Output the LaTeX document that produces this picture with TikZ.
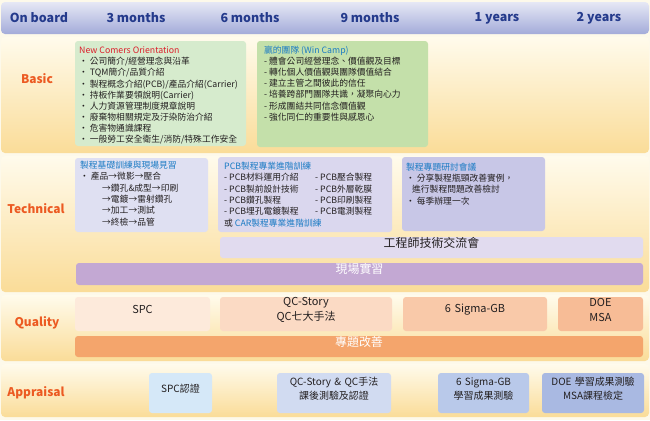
\documentclass[tikz,border=0pt]{standalone}
\usepackage{fontspec}
\setmainfont{Noto Sans CJK TC}
\usetikzlibrary{fit}

\definecolor{bgc}{HTML}{FDF9EA}
\definecolor{hdrtop}{HTML}{E6E8F5}
\definecolor{hdrbot}{HTML}{A3ABD9}
\definecolor{hdrtext}{HTML}{243A8C}
\definecolor{bandtop}{HTML}{FFFBEC}
\definecolor{bandbot}{HTML}{FADC98}
\definecolor{labelc}{HTML}{EC5A22}
\definecolor{redc}{HTML}{DC1F2B}
\definecolor{bluec}{HTML}{1B7BC4}
\definecolor{bodyc}{HTML}{231F20}
\definecolor{greenA}{HTML}{D6EBCD}
\definecolor{greenB}{HTML}{C4E0AA}
\definecolor{lavA}{HTML}{DFE0F2}
\definecolor{lavB}{HTML}{DAD7EE}
\definecolor{lavC}{HTML}{C8C7E7}
\definecolor{lavBar}{HTML}{E1DBEF}
\definecolor{purpleBar}{HTML}{C3A8D3}
\definecolor{peachA}{HTML}{FDEADB}
\definecolor{peachB}{HTML}{FBDAC4}
\definecolor{peachC}{HTML}{F9C9A9}
\definecolor{peachD}{HTML}{F7BC96}
\definecolor{orangeBar}{HTML}{F4A56C}
\definecolor{blueA}{HTML}{D5E8F8}
\definecolor{blueB}{HTML}{D1DBF1}
\definecolor{blueC}{HTML}{B9C9EA}
\definecolor{blueD}{HTML}{A9B9E2}

\tikzset{
  band/.style={inner sep=0pt, rounded corners=4bp, top color=bandtop, bottom color=bandbot, draw=none},
  header/.style={inner sep=0pt, rounded corners=4bp, top color=hdrtop, bottom color=hdrbot, draw=none},
  hdrlabel/.style={text=hdrtext, font=\fontsize{12.5}{15}\selectfont\bfseries, inner sep=0pt},
  rowlabel/.style={text=labelc, font=\fontsize{12}{14}\selectfont\bfseries, inner sep=0pt},
  panel/.style={inner sep=0pt, rounded corners=3bp, draw=none},
  % multi-line text blocks are placed by the baseline of their last line
  body/.style={inner sep=0pt, anchor=base west, align=left, text=bodyc,
    font=\fontsize{8.8}{11.1}\selectfont},
  techbody/.style={body, font=\fontsize{8.8}{11.3}\selectfont},
  qtext/.style={align=center, text=bodyc, font=\fontsize{11}{14.5}\selectfont},
  atext/.style={align=center, text=bodyc, font=\fontsize{10}{13.5}\selectfont},
  bartext/.style={align=center, font=\fontsize{12}{14}\selectfont},
}

\begin{document}
\begin{tikzpicture}[x=1bp, y=-1bp]
  \useasboundingbox (0,0) rectangle (650,420);
  \fill[bgc] (0,0) rectangle (650,420);

  % timeline header
  \node[header, fit={(1,2) (649,34)}] (hdr) {};
  \node[hdrlabel] (h0) at (39,18) {On board};
  \node[hdrlabel] (h1) at (136,18) {3 months};
  \node[hdrlabel] (h2) at (250,18) {6 months};
  \node[hdrlabel] (h3) at (370,18) {9 months};
  \node[hdrlabel] (h4) at (497,18) {1 years};
  \node[hdrlabel] (h5) at (599,18) {2 years};

  % row bands
  \node[band, fit={(1,37) (649,153)}] (rowBasic) {};
  \node[band, fit={(1,156) (649,292)}] (rowTech) {};
  \node[band, fit={(1,295) (649,361)}] (rowQuality) {};
  \node[band, fit={(1,364) (649,417)}] (rowAppraisal) {};

  \node[rowlabel] (lBasic) at (37,79) {Basic};
  \node[rowlabel] (lTech) at (36,209) {Technical};
  \node[rowlabel] (lQuality) at (37,323) {Quality};
  \node[rowlabel] (lAppraisal) at (36,393) {Appraisal};

  % Basic
  \node[panel, fill=greenA, fit={(75,41) (246,146)}] (newcomers) {};
  \node[body] (newcomersText) at (79,142.3) {%
    {\color{redc}New Comers Orientation}\\
    · 公司簡介/經營理念與沿革\\
    · TQM簡介/品質介紹\\
    · 製程概念介紹(PCB)/產品介紹(Carrier)\\
    · 持板作業要領說明(Carrier)\\
    · 人力資源管理制度規章說明\\
    · 廢棄物相關規定及汙染防治介紹\\
    · 危害物通識課程\\
    · 一般勞工安全衛生/消防/特殊工作安全};

  \node[panel, fill=greenB, fit={(257,41) (428,147)}] (wincamp) {};
  \node[body] (wincampText) at (264,120.1) {%
    {\color{bluec}贏的團隊 (Win Camp)}\\
    - 體會公司經營理念、價值觀及目標\\
    - 轉化個人價值觀與團隊價值結合\\
    - 建立主管之間彼此的信任\\
    - 培養跨部門團隊共識，凝聚向心力\\
    - 形成團結共同信念價值觀\\
    - 強化同仁的重要性與感恩心};

  % Technical
  \node[panel, fill=lavA, fit={(75,158) (208,232)}] (basicproc) {};
  \node[techbody] (basicprocText) at (80,225) {%
    {\color{bluec}製程基礎訓練與現場見習}\\
    · 產品→微影→壓合\\
    \hspace*{22bp}→鑽孔\&成型→印刷\\
    \hspace*{22bp}→電鍍→雷射鑽孔\\
    \hspace*{22bp}→加工→測試\\
    \hspace*{22bp}→終檢→品管};

  \node[panel, fill=lavB, fit={(218,157) (392,232)}] (pcbadv) {};
  \node[techbody] (pcbadvText) at (224,226) {%
    {\color{bluec}PCB製程專業進階訓練}\\
    \makebox[91bp][l]{- PCB材料運用介紹}- PCB壓合製程\\
    \makebox[91bp][l]{- PCB製前設計技術}- PCB外層乾膜\\
    \makebox[91bp][l]{- PCB鑽孔製程}- PCB印刷製程\\
    \makebox[91bp][l]{- PCB埋孔電鍍製程}- PCB電測製程\\
    或 {\color{bluec}CAR製程專業進階訓練}};

  \node[panel, fill=lavC, fit={(402,157) (545,231)}] (seminar) {};
  \node[techbody] (seminarText) at (406,204) {%
    {\color{bluec}製程專題研討會議}\\
    · 分享製程瓶頸改善實例，\\
    \hspace*{6bp}進行製程問題改善檢討\\
    · 每季辦理一次};

  \node[panel, fill=lavBar, fit={(220,237) (643,258)}, bartext, text=bodyc] (exchange) {工程師技術交流會};
  \node[panel, fill=purpleBar, fit={(76,263) (643,285)}, bartext, text=white] (practice) {現場實習};

  % Quality
  \node[panel, fill=peachA, fit={(75,297) (210,331)}, qtext] (qSPC) {SPC};
  \node[panel, fill=peachB, fit={(220,297) (392,331)}, qtext] (qQC) {QC-Story\\QC七大手法};
  \node[panel, fill=peachC, fit={(403,297) (547,331)}, qtext] (qSigma) {6 Sigma-GB};
  \node[panel, fill=peachD, fit={(558,297) (643,331)}, qtext] (qDOE) {DOE\\MSA};
  \node[panel, fill=orangeBar, fit={(75,336) (643,357)}, bartext, text=white] (improve) {專題改善};

  % Appraisal
  \node[panel, fill=blueA, fit={(149,373) (212,413)}, atext] (aSPC) {SPC認證};
  \node[panel, fill=blueB, fit={(277,373) (391,413)}, atext] (aQC) {QC-Story \& QC手法\\課後測驗及認證};
  \node[panel, fill=blueC, fit={(438,373) (529,413)}, atext] (aSigma) {6 Sigma-GB\\學習成果測驗};
  \node[panel, fill=blueD, fit={(542,373) (644,413)}, atext] (aDOE) {DOE 學習成果測驗\\MSA課程檢定};
\end{tikzpicture}
\end{document}
